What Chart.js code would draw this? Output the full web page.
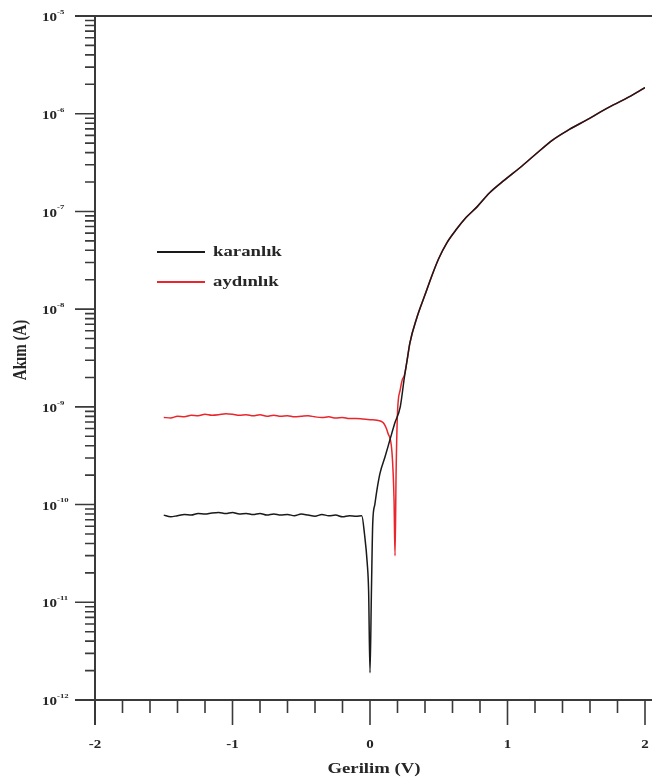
<!DOCTYPE html>
<html>
<head>
<meta charset="utf-8">
<script src="https://cdn.jsdelivr.net/npm/chart.js@4"></script>
<style>
  html, body { margin: 0; padding: 0; background: #fff; }
  #wrap { width: 652px; height: 783px; }
</style>
</head>
<body>
<div id="wrap"><canvas id="c" width="652" height="783"></canvas></div>
<script>
// ---- data ----
const seriesNames = ["karanlık", "aydınlık"];
const xTitle = "Gerilim (V)";
const yTitle = "Akım (A)";
const xTickValues = [-2, -1, 0, 1, 2];
const yDecades = [-12, -11, -10, -9, -8, -7, -6, -5];

const darkV = [-1.5, -1.45, -1.4, -1.35, -1.3, -1.25, -1.2, -1.15, -1.1, -1.05, -1.0, -0.95, -0.9, -0.85, -0.8, -0.75,
  -0.7, -0.65, -0.6, -0.55, -0.5, -0.45, -0.4, -0.35, -0.3, -0.25, -0.2, -0.15, -0.1, -0.06,
  -0.04, -0.02, -0.01, 0.0, 0.01, 0.02, 0.035, 0.05, 0.073, 0.11, 0.145, 0.18, 0.22, 0.25, 0.27, 0.29, 0.34,
  0.40, 0.45, 0.50, 0.56, 0.63, 0.70, 0.78, 0.87, 0.98, 1.09, 1.20, 1.33, 1.45, 1.58, 1.68, 1.77, 1.88, 2.0];
const darkI = [7.8e-11, 7.5e-11, 7.7e-11, 7.9e-11, 7.8e-11, 8.1e-11, 8.0e-11, 8.2e-11, 8.3e-11, 8.1e-11, 8.3e-11, 8.0e-11, 8.1e-11, 7.9e-11, 8.1e-11, 7.8e-11,
  8.0e-11, 7.8e-11, 7.9e-11, 7.7e-11, 8.0e-11, 7.8e-11, 7.6e-11, 7.9e-11, 7.7e-11, 7.8e-11, 7.5e-11, 7.7e-11, 7.6e-11, 7.7e-11,
  5.0e-11, 2.5e-11, 1.3e-11, 1.9e-12, 1.2e-11, 6.5e-11, 1.0e-10, 1.4e-10, 2.1e-10, 3.1e-10, 4.6e-10, 6.8e-10, 1.0e-9, 2.0e-9, 3.0e-9, 4.5e-9, 8.1e-9,
  1.4e-8, 2.2e-8, 3.3e-8, 4.8e-8, 6.6e-8, 8.7e-8, 1.12e-7, 1.55e-7, 2.1e-7, 2.8e-7, 3.8e-7, 5.4e-7, 6.9e-7, 8.7e-7, 1.05e-6, 1.23e-6, 1.48e-6, 1.85e-6];

const lightV = [-1.5, -1.45, -1.4, -1.35, -1.3, -1.25, -1.2, -1.15, -1.1, -1.05, -1.0, -0.95, -0.9, -0.85, -0.8, -0.75,
  -0.7, -0.65, -0.6, -0.55, -0.5, -0.45, -0.4, -0.35, -0.3, -0.25, -0.2, -0.15, -0.1, -0.05, 0.0, 0.05,
  0.095, 0.13, 0.16, 0.175, 0.182, 0.19, 0.20, 0.22, 0.235, 0.25, 0.27, 0.29, 0.34,
  0.40, 0.45, 0.50, 0.56, 0.63, 0.70, 0.78, 0.87, 0.98, 1.09, 1.20, 1.33, 1.45, 1.58, 1.68, 1.77, 1.88, 2.0];
const lightI = [7.8e-10, 7.7e-10, 8.0e-10, 7.9e-10, 8.2e-10, 8.1e-10, 8.4e-10, 8.2e-10, 8.3e-10, 8.5e-10, 8.4e-10, 8.2e-10, 8.3e-10, 8.1e-10, 8.3e-10, 8.0e-10,
  8.2e-10, 8.0e-10, 8.1e-10, 7.9e-10, 8.0e-10, 8.1e-10, 7.9e-10, 7.8e-10, 7.9e-10, 7.7e-10, 7.8e-10, 7.6e-10, 7.6e-10, 7.5e-10, 7.4e-10, 7.3e-10,
  6.9e-10, 5.4e-10, 3.4e-10, 1.1e-10, 3.0e-11, 2.2e-10, 8.7e-10, 1.5e-9, 1.9e-9, 2.1e-9, 3.0e-9, 4.5e-9, 8.1e-9,
  1.4e-8, 2.2e-8, 3.3e-8, 4.8e-8, 6.6e-8, 8.7e-8, 1.12e-7, 1.55e-7, 2.1e-7, 2.8e-7, 3.8e-7, 5.4e-7, 6.9e-7, 8.7e-7, 1.05e-6, 1.23e-6, 1.48e-6, 1.85e-6];

const seriesColors = ["#1a1a1a", "#e8262c"];

// ---- helpers ----
const FONT = '"Liberation Serif", "DejaVu Serif", serif';
const SX = 1.25; // horizontal stretch of the reference's lettering
const INK = "#262626";

function stretchedText(ctx, text, x, y, size, align, rot) {
  ctx.save();
  ctx.translate(x, y);
  if (rot) ctx.rotate(rot);
  if (!rot) ctx.scale(SX, 1); else ctx.scale(1, SX);
  ctx.font = "bold " + size + "px " + FONT;
  ctx.textAlign = align;
  ctx.textBaseline = "middle";
  ctx.fillStyle = INK;
  ctx.fillText(text, 0, 0);
  ctx.restore();
}

const axesPlugin = {
  id: "originAxes",
  afterDraw(chart) {
    const ctx = chart.ctx;
    const xs = chart.scales.x, ys = chart.scales.y;
    const L = xs.getPixelForValue(xs.min), R = xs.getPixelForValue(xs.max);
    const T = ys.getPixelForValue(ys.max), B = ys.getPixelForValue(ys.min);
    const W = chart.width;
    ctx.save();
    ctx.strokeStyle = "#3a3a3a";
    ctx.lineWidth = 2;
    ctx.lineCap = "butt";
    ctx.beginPath();
    ctx.moveTo(L - 20, T); ctx.lineTo(W, T);
    ctx.moveTo(L - 20, B); ctx.lineTo(W, B);
    ctx.moveTo(L, T); ctx.lineTo(L, B + 25);
    ctx.stroke();

    ctx.lineWidth = 1.6;
    ctx.beginPath();
    yDecades.forEach(d => {
      const p = ys.getPixelForValue(Math.pow(10, d));
      ctx.moveTo(L - 20, p); ctx.lineTo(L, p);
      if (d < yDecades[yDecades.length - 1]) {
        for (let m = 2; m <= 9; m++) {
          const q = ys.getPixelForValue(m * Math.pow(10, d));
          ctx.moveTo(L - 10, q); ctx.lineTo(L, q);
        }
      }
    });
    for (let k = -10; k <= 10; k++) {
      const v = k / 5;
      const p = xs.getPixelForValue(v);
      const major = k % 5 === 0;
      ctx.moveTo(p, B); ctx.lineTo(p, B + (major ? 25 : 13));
    }
    ctx.stroke();

    yDecades.forEach(d => {
      const p = ys.getPixelForValue(Math.pow(10, d));
      stretchedText(ctx, "10", 57, p + 2, 12, "right");
      stretchedText(ctx, String(d), 57, p - 4, 7, "left");
    });
    xTickValues.forEach(v => {
      const p = xs.getPixelForValue(v);
      stretchedText(ctx, String(v), p, B + 45, 12, "center");
    });
    stretchedText(ctx, xTitle, (L + R) / 2 + 4, B + 69, 15, "center");
    stretchedText(ctx, yTitle, 21, (T + B) / 2 - 8, 15, "center", -Math.PI / 2);

    const legY = [252, 282];
    chart.data.datasets.forEach((ds, i) => {
      ctx.strokeStyle = ds.borderColor;
      ctx.lineWidth = 2;
      ctx.beginPath();
      ctx.moveTo(157, legY[i]); ctx.lineTo(205, legY[i]);
      ctx.stroke();
      stretchedText(ctx, ds.label, 213, legY[i], 15, "left");
    });
    ctx.restore();
  }
};

const toPts = (V, I) => V.map((v, i) => ({ x: v, y: I[i] }));

new Chart(document.getElementById("c"), {
  type: "scatter",
  data: {
    datasets: [
      { label: seriesNames[0], data: toPts(darkV, darkI), borderColor: seriesColors[0], showLine: true,
        pointRadius: 0, borderWidth: 1.5, cubicInterpolationMode: "monotone" },
      { label: seriesNames[1], data: toPts(lightV, lightI), borderColor: seriesColors[1], showLine: true,
        pointRadius: 0, borderWidth: 1.5, cubicInterpolationMode: "monotone" }
    ]
  },
  options: {
    responsive: false,
    animation: false,
    layout: { padding: { left: 95, right: 7, top: 16, bottom: 83 } },
    plugins: { legend: { display: false }, tooltip: { enabled: false } },
    scales: {
      x: { type: "linear", min: -2, max: 2, display: false },
      y: { type: "logarithmic", min: 1e-12, max: 1e-5, display: false }
    }
  },
  plugins: [axesPlugin]
});
</script>
</body>
</html>
